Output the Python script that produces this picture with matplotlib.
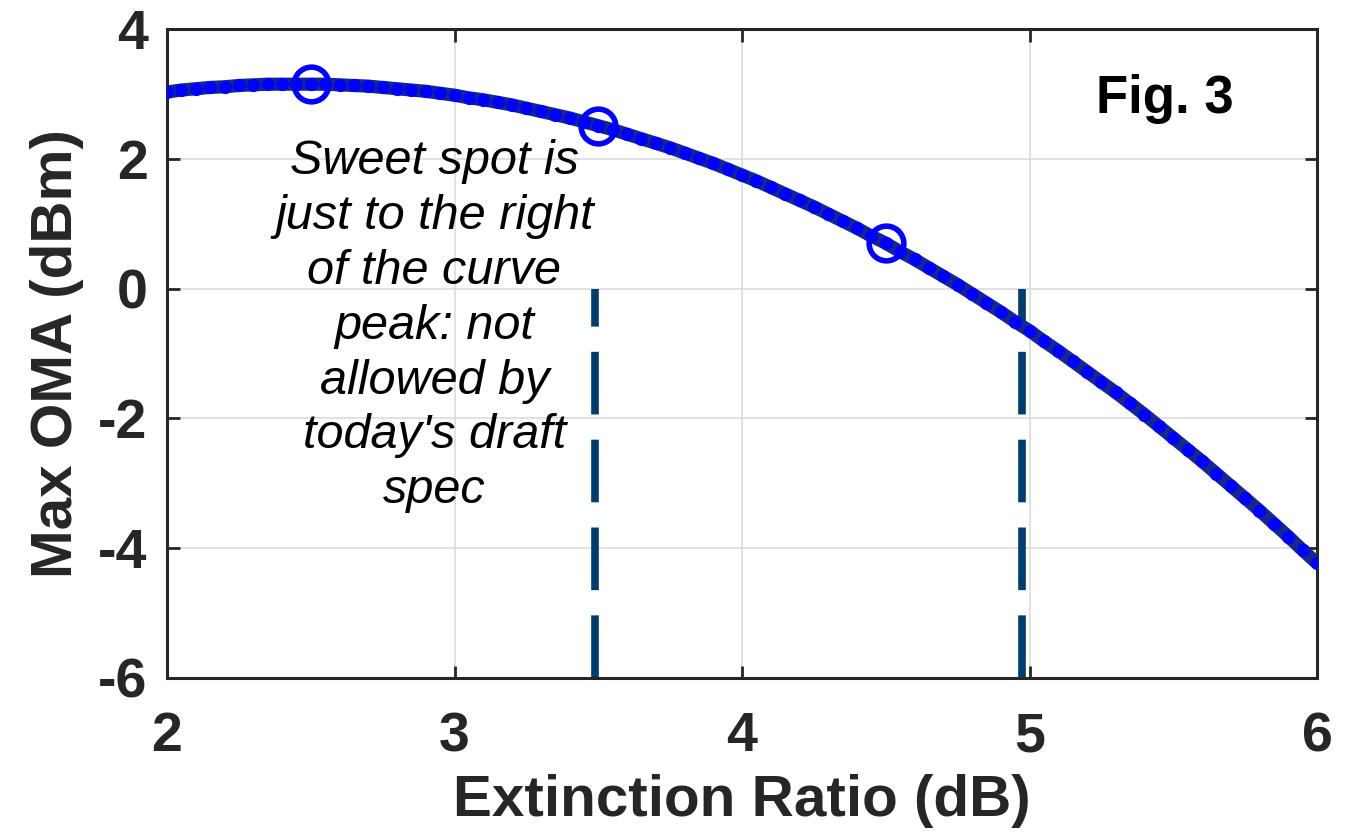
import numpy as np
import matplotlib
matplotlib.use("Agg")
import matplotlib.pyplot as plt

plt.rcParams["font.family"] = ["Liberation Sans", "DejaVu Sans"]
plt.rcParams["axes.unicode_minus"] = False

# extinction ratio (dB), 0.05 dB steps
er = [2.00, 2.05, 2.10, 2.15, 2.20, 2.25, 2.30, 2.35, 2.40, 2.45,
      2.50, 2.55, 2.60, 2.65, 2.70, 2.75, 2.80, 2.85, 2.90, 2.95,
      3.00, 3.05, 3.10, 3.15, 3.20, 3.25, 3.30, 3.35, 3.40, 3.45,
      3.50, 3.55, 3.60, 3.65, 3.70, 3.75, 3.80, 3.85, 3.90, 3.95,
      4.00, 4.05, 4.10, 4.15, 4.20, 4.25, 4.30, 4.35, 4.40, 4.45,
      4.50, 4.55, 4.60, 4.65, 4.70, 4.75, 4.80, 4.85, 4.90, 4.95,
      5.00, 5.05, 5.10, 5.15, 5.20, 5.25, 5.30, 5.35, 5.40, 5.45,
      5.50, 5.55, 5.60, 5.65, 5.70, 5.75, 5.80, 5.85, 5.90, 5.95, 6.00]
# max OMA (dBm)
oma = [3.03, 3.06, 3.08, 3.10, 3.11, 3.13, 3.14, 3.15, 3.15, 3.15,
       3.15, 3.15, 3.14, 3.13, 3.12, 3.10, 3.08, 3.06, 3.04, 3.01,
       2.98, 2.94, 2.91, 2.87, 2.83, 2.78, 2.73, 2.68, 2.63, 2.57,
       2.51, 2.45, 2.38, 2.31, 2.24, 2.17, 2.09, 2.01, 1.93, 1.84,
       1.75, 1.66, 1.56, 1.46, 1.36, 1.26, 1.15, 1.04, 0.93, 0.81,
       0.70, 0.57, 0.45, 0.32, 0.19, 0.06, -0.08, -0.22, -0.36, -0.51,
       -0.65, -0.81, -0.96, -1.12, -1.28, -1.44, -1.60, -1.77, -1.94, -2.12,
       -2.30, -2.48, -2.66, -2.85, -3.04, -3.23, -3.42, -3.62, -3.82, -4.03, -4.23]

# circled operating points
mark_er = [2.5, 3.5, 4.5]
mark_oma = [3.15, 2.51, 0.70]

# spec limits (dashed)
limit_er = [3.49, 4.975]

note = "Sweet spot is\njust to the right\nof the curve\npeak: not\nallowed by\ntoday's draft\nspec"

fig = plt.figure(figsize=(13.48, 8.39), dpi=100)
ax = fig.add_axes([0.1239, 0.1919, 0.8531, 0.7735])

ink = "#262626"

ax.plot(er, oma, color="#16298a", lw=9.5, solid_capstyle="round", zorder=3)
ax.plot(er, oma, ls="none", marker="o", ms=9.5, mfc="#0000ff", mec="none", zorder=4)
ax.plot(mark_er, mark_oma, ls="none", marker="o", ms=25, mfc="none",
        mec="#0000ff", mew=4, zorder=5)

for x in limit_er:
    ax.plot([x, x], [-6, 0], color="#003d6b", lw=5.5, dashes=(8.2, 3.3),
            solid_capstyle="butt", dash_capstyle="butt", zorder=2)

ax.text(2.93, -0.58, note, ha="center", va="center", fontsize=35,
        style="italic", color="black", linespacing=1.28, zorder=6)
ax.text(5.47, 2.92, "Fig. 3", ha="center", va="center", fontsize=38,
        fontweight="bold", color="black")

ax.set_xlim(2, 6)
ax.set_ylim(-6, 4)
ax.set_xticks([2, 3, 4, 5, 6])
ax.set_yticks([-6, -4, -2, 0, 2, 4])
ax.grid(True, color="#dcdcdc", lw=1.2)
ax.set_axisbelow(True)

ax.tick_params(direction="in", length=9, width=2, colors=ink, top=True, right=True,
               labelsize=40)
ax.tick_params(axis="x", pad=24)
ax.tick_params(axis="y", pad=14)
for lab in ax.get_xticklabels() + ax.get_yticklabels():
    lab.set_fontweight("bold")
for s in ax.spines.values():
    s.set_color(ink)
    s.set_linewidth(2.2)

ax.set_xlabel("Extinction Ratio (dB)", fontsize=42, fontweight="bold", color=ink, labelpad=8)
ax.set_ylabel("Max OMA (dBm)", fontsize=42, fontweight="bold", color=ink, labelpad=10)

fig.savefig("out.png", dpi=100)
